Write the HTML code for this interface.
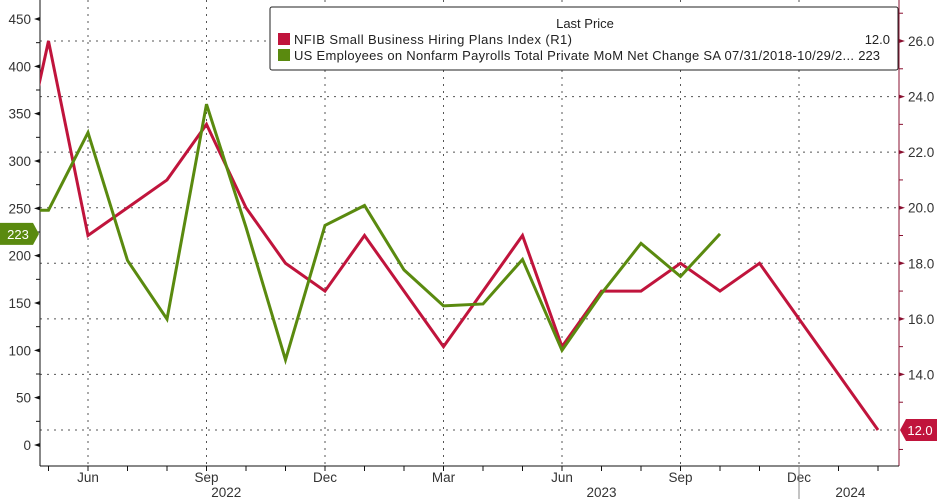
<!DOCTYPE html>
<html><head><meta charset="utf-8">
<style>
html,body{margin:0;padding:0;background:#fff;}
svg{display:block;font-family:"Liberation Sans",sans-serif;}
</style></head>
<body>
<svg id="chart" width="937" height="499" viewBox="0 0 937 499">
<g id="grid"></g>
<g id="axes"></g>
<g id="series"></g>
<g id="legend">
  <rect x="270" y="7" width="628" height="63" rx="2" fill="#fff" stroke="#222" stroke-width="1"/>
  <text x="585" y="28" font-size="13" fill="#222" text-anchor="middle">Last Price</text>
  <rect x="278" y="33" width="12" height="12" fill="#c0143c"/>
  <text x="294" y="44" font-size="13" fill="#222" textLength="278" lengthAdjust="spacing">NFIB Small Business Hiring Plans Index  (R1)</text>
  <text x="890" y="44" font-size="13" fill="#222" text-anchor="end">12.0</text>
  <rect x="278" y="49" width="12" height="12" fill="#5a8a0f"/>
  <text x="294" y="60" font-size="13" fill="#222" textLength="560" lengthAdjust="spacing">US Employees on Nonfarm Payrolls Total Private MoM Net Change SA 07/31/2018-10/29/2...</text>
  <text x="880" y="60" font-size="13" fill="#222" text-anchor="end">223</text>
</g>
</svg>
<script>
// months index 0 = Apr 2022
const months = ["Apr22","May22","Jun22","Jul22","Aug22","Sep22","Oct22","Nov22","Dec22","Jan23","Feb23","Mar23","Apr23","May23","Jun23","Jul23","Aug23","Sep23","Oct23","Nov23","Dec23","Jan24","Feb24"];
const nfibValues = [19.5,26,19,20,21,23,20,18,17,19,17,15,17,19,15,17,17,18,17,18,16,14,12];
const payrollValues = [248,248,330,195,133,360,230,90,232,253,185,147,149,196,100,160,213,178,223];
const leftTicks = [0,50,100,150,200,250,300,350,400,450];
const rightTicks = [14,16,18,20,22,24,26];
const monthLabels = [{i:2,t:"Jun"},{i:5,t:"Sep"},{i:8,t:"Dec"},{i:11,t:"Mar"},{i:14,t:"Jun"},{i:17,t:"Sep"},{i:20,t:"Dec"}];
const yearLabels = [{i:5.5,t:"2022"},{i:15,t:"2023"},{i:21.3,t:"2024"}];

const NS="http://www.w3.org/2000/svg";
const L=40,R=899,T=0,B=466;
const x=i=>9+i*39.5;
const yL=v=>445-v*(426/450);
const yR=v=>430-(v-12)*(389/14);
function mk(tag,attrs,parent){const e=document.createElementNS(NS,tag);for(const k in attrs)e.setAttribute(k,attrs[k]);parent.appendChild(e);return e;}
const grid=document.getElementById('grid'),axes=document.getElementById('axes'),series=document.getElementById('series');

[12,14,16,18,20,22,24,26].forEach(v=>{
  const g=mk('line',{x1:L,x2:R,y1:yR(v),y2:yR(v),stroke:'#555','stroke-dasharray':'2,5','stroke-width':1},grid);
  
  
});
monthLabels.forEach(m=>{
  const g=mk('line',{x1:x(m.i),x2:x(m.i),y1:T,y2:B,stroke:'#555','stroke-dasharray':'2,5','stroke-width':1},grid);
  
  
});

mk('line',{x1:L,x2:L,y1:0,y2:B,stroke:'#111','stroke-width':1},axes);
mk('line',{x1:R,x2:R,y1:0,y2:B,stroke:'#8a1030','stroke-width':1},axes);
mk('line',{x1:L,x2:R,y1:B,y2:B,stroke:'#111','stroke-width':1},axes);
leftTicks.forEach(v=>{
  const y=yL(v);
  mk('path',{d:`M${L-6},${y} L${L},${y-2} L${L},${y+2}Z`,fill:'#111'},axes);
  const t=mk('text',{x:L-9,y:y+5,'font-size':13.5,fill:'#333','text-anchor':'end'},axes);t.textContent=v;
  
  
  if(v<450){const ym=yL(v+25);mk('line',{x1:L-4,x2:L,y1:ym,y2:ym,stroke:'#111'},axes);}
});
rightTicks.forEach(v=>{
  const y=yR(v);
  mk('path',{d:`M${R+6},${y} L${R},${y-2} L${R},${y+2}Z`,fill:'#8a1030'},axes);
  const t=mk('text',{x:R+9,y:y+5,'font-size':13.5,fill:'#333'},axes);t.textContent=v.toFixed(1);
  
  
});
[13,15,17,19,21,23,25,27,11.3].forEach(v=>{const y=yR(v);mk('line',{x1:R,x2:R+4,y1:y,y2:y,stroke:'#8a1030'},axes);});
for(let i=1;i<months.length;i++){mk('line',{x1:x(i),x2:x(i),y1:B,y2:B+5,stroke:'#111'},axes);}
monthLabels.forEach(m=>{
  const t=mk('text',{x:x(m.i),y:482,'font-size':13.5,fill:'#333','text-anchor':'middle'},axes);t.textContent=m.t;
  
  
});
yearLabels.forEach(m=>{
  const t=mk('text',{x:x(m.i),y:497,'font-size':13.5,fill:'#333','text-anchor':'middle'},axes);t.textContent=m.t;
  
  
});
mk('line',{x1:x(20),x2:x(20),y1:B,y2:499,stroke:'#888'},axes);

const defs=mk('defs',{},series);
const cp=mk('clipPath',{id:'pc'},defs);
mk('rect',{x:L,y:0,width:R-L,height:B},cp);

const nfib=mk('polyline',{points:nfibValues.map((v,i)=>x(i)+','+yR(v)).join(' '),fill:'none',stroke:'#c0143c','stroke-width':3,'stroke-linejoin':'miter','clip-path':'url(#pc)'},series);


const pay=mk('polyline',{points:payrollValues.map((v,i)=>x(i)+','+yL(v)).join(' '),fill:'none',stroke:'#5a8a0f','stroke-width':3,'stroke-linejoin':'miter','clip-path':'url(#pc)'},series);



const gy=yL(payrollValues[payrollValues.length-1]);
const gt=mk('path',{d:`M0,${gy-11} L33,${gy-11} L39,${gy} L33,${gy+11} L0,${gy+11}Z`,fill:'#5a8a0f'},axes);


const gtt=mk('text',{x:18,y:gy+5,'font-size':13,fill:'#fff','text-anchor':'middle'},axes);gtt.textContent=payrollValues[payrollValues.length-1];


const ry=yR(nfibValues[nfibValues.length-1]);
const rt=mk('path',{d:`M937,${ry-11} L906,${ry-11} L900,${ry} L906,${ry+11} L937,${ry+11}Z`,fill:'#c0143c'},axes);


const rtt=mk('text',{x:920,y:ry+5,'font-size':13,fill:'#fff','text-anchor':'middle'},axes);rtt.textContent=nfibValues[nfibValues.length-1].toFixed(1);


document.getElementById('chart').appendChild(document.getElementById('legend'));
</script>
</body></html>
